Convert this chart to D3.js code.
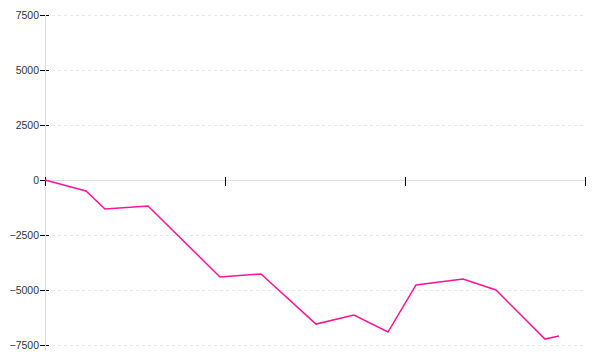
<!DOCTYPE html>
<html>
<head>
<meta charset="utf-8">
<script src="https://cdn.jsdelivr.net/npm/d3@7"></script>
<style>
  body { margin: 0; background: #fff; }
</style>
</head>
<body>
<svg class="chart" width="600" height="360"></svg>
<script>
// Positions along the x axis (arbitrary time units) and the running values
let xValues = [0, 41, 60, 103, 175, 216, 271, 309, 343, 371, 418, 451, 500, 514];
let yValues = [0, -500, -1320, -1180, -4410, -4270, -6550, -6140, -6910, -4770, -4500, -5000, -7230, -7090];
let yTicks = [-7500, -5000, -2500, 0, 2500, 5000, 7500];
let xTicks = [0, 180, 360, 540];

let data = xValues.map((x, i) => ({x: x, y: yValues[i]}));

var svg = d3.select(".chart");
let margin = {left: 45, right: 15, top: 15, bottom: 15};
let innerWidth = +svg.attr("width") - margin.left - margin.right;
let innerHeight = +svg.attr("height") - margin.top - margin.bottom;

var xScale = d3.scaleLinear()
               .domain([0, 540])
               .range([0, innerWidth]);
var yScale = d3.scaleLinear()
               .domain([-7500, 7500])
               .range([innerHeight, 0]);

let g = svg.append("g")
           .attr("transform", `translate(${margin.left}, ${margin.top})`);

// dashed grid lines
g.selectAll(".grid")
 .data(yTicks.filter(d => d != 0))
 .enter()
 .append("line")
 .attr("x1", 7)
 .attr("x2", innerWidth)
 .attr("y1", d => yScale(d) + 0.5)
 .attr("y2", d => yScale(d) + 0.5)
 .attr("stroke", "#e8e8e8")
 .attr("stroke-dasharray", "3,3");

// y axis, ticks cross the axis line
let yAxis = g.append("g")
             .call(d3.axisLeft(yScale).tickValues(yTicks).tickSize(5).tickFormat(d3.format("d")));
yAxis.select(".domain").remove();
yAxis.selectAll(".tick line").attr("x1", 4).attr("x2", -5).attr("stroke", "#000").attr("shape-rendering", "crispEdges");
yAxis.selectAll(".tick text")
     .attr("x", -6)
     .attr("fill", "#333")
     .style("font-family", "'Liberation Sans', Arial, sans-serif")
     .style("font-size", "10.5px");
g.append("line")
 .attr("x1", 0.5).attr("x2", 0.5)
 .attr("y1", 0).attr("y2", innerHeight + 5)
 .attr("stroke", "#ddd");

// x axis at zero, no labels
let xAxis = g.append("g")
             .attr("transform", `translate(0, ${yScale(0)})`)
             .call(d3.axisBottom(xScale).tickValues(xTicks).tickSize(6).tickFormat(""));
xAxis.select(".domain").attr("stroke", "#ddd").attr("d", `M0,0.5H${innerWidth}`);
xAxis.selectAll(".tick line").attr("y1", -3).attr("stroke", "#000").attr("shape-rendering", "crispEdges");

g.append("path")
 .datum(data)
 .attr("fill", "none")
 .attr("stroke", "#ff1493")
 .attr("stroke-width", 1.5)
 .attr("d", d3.line()
    .x(d => xScale(d.x))
    .y(d => yScale(d.y))
 );
</script>
</body>
</html>
